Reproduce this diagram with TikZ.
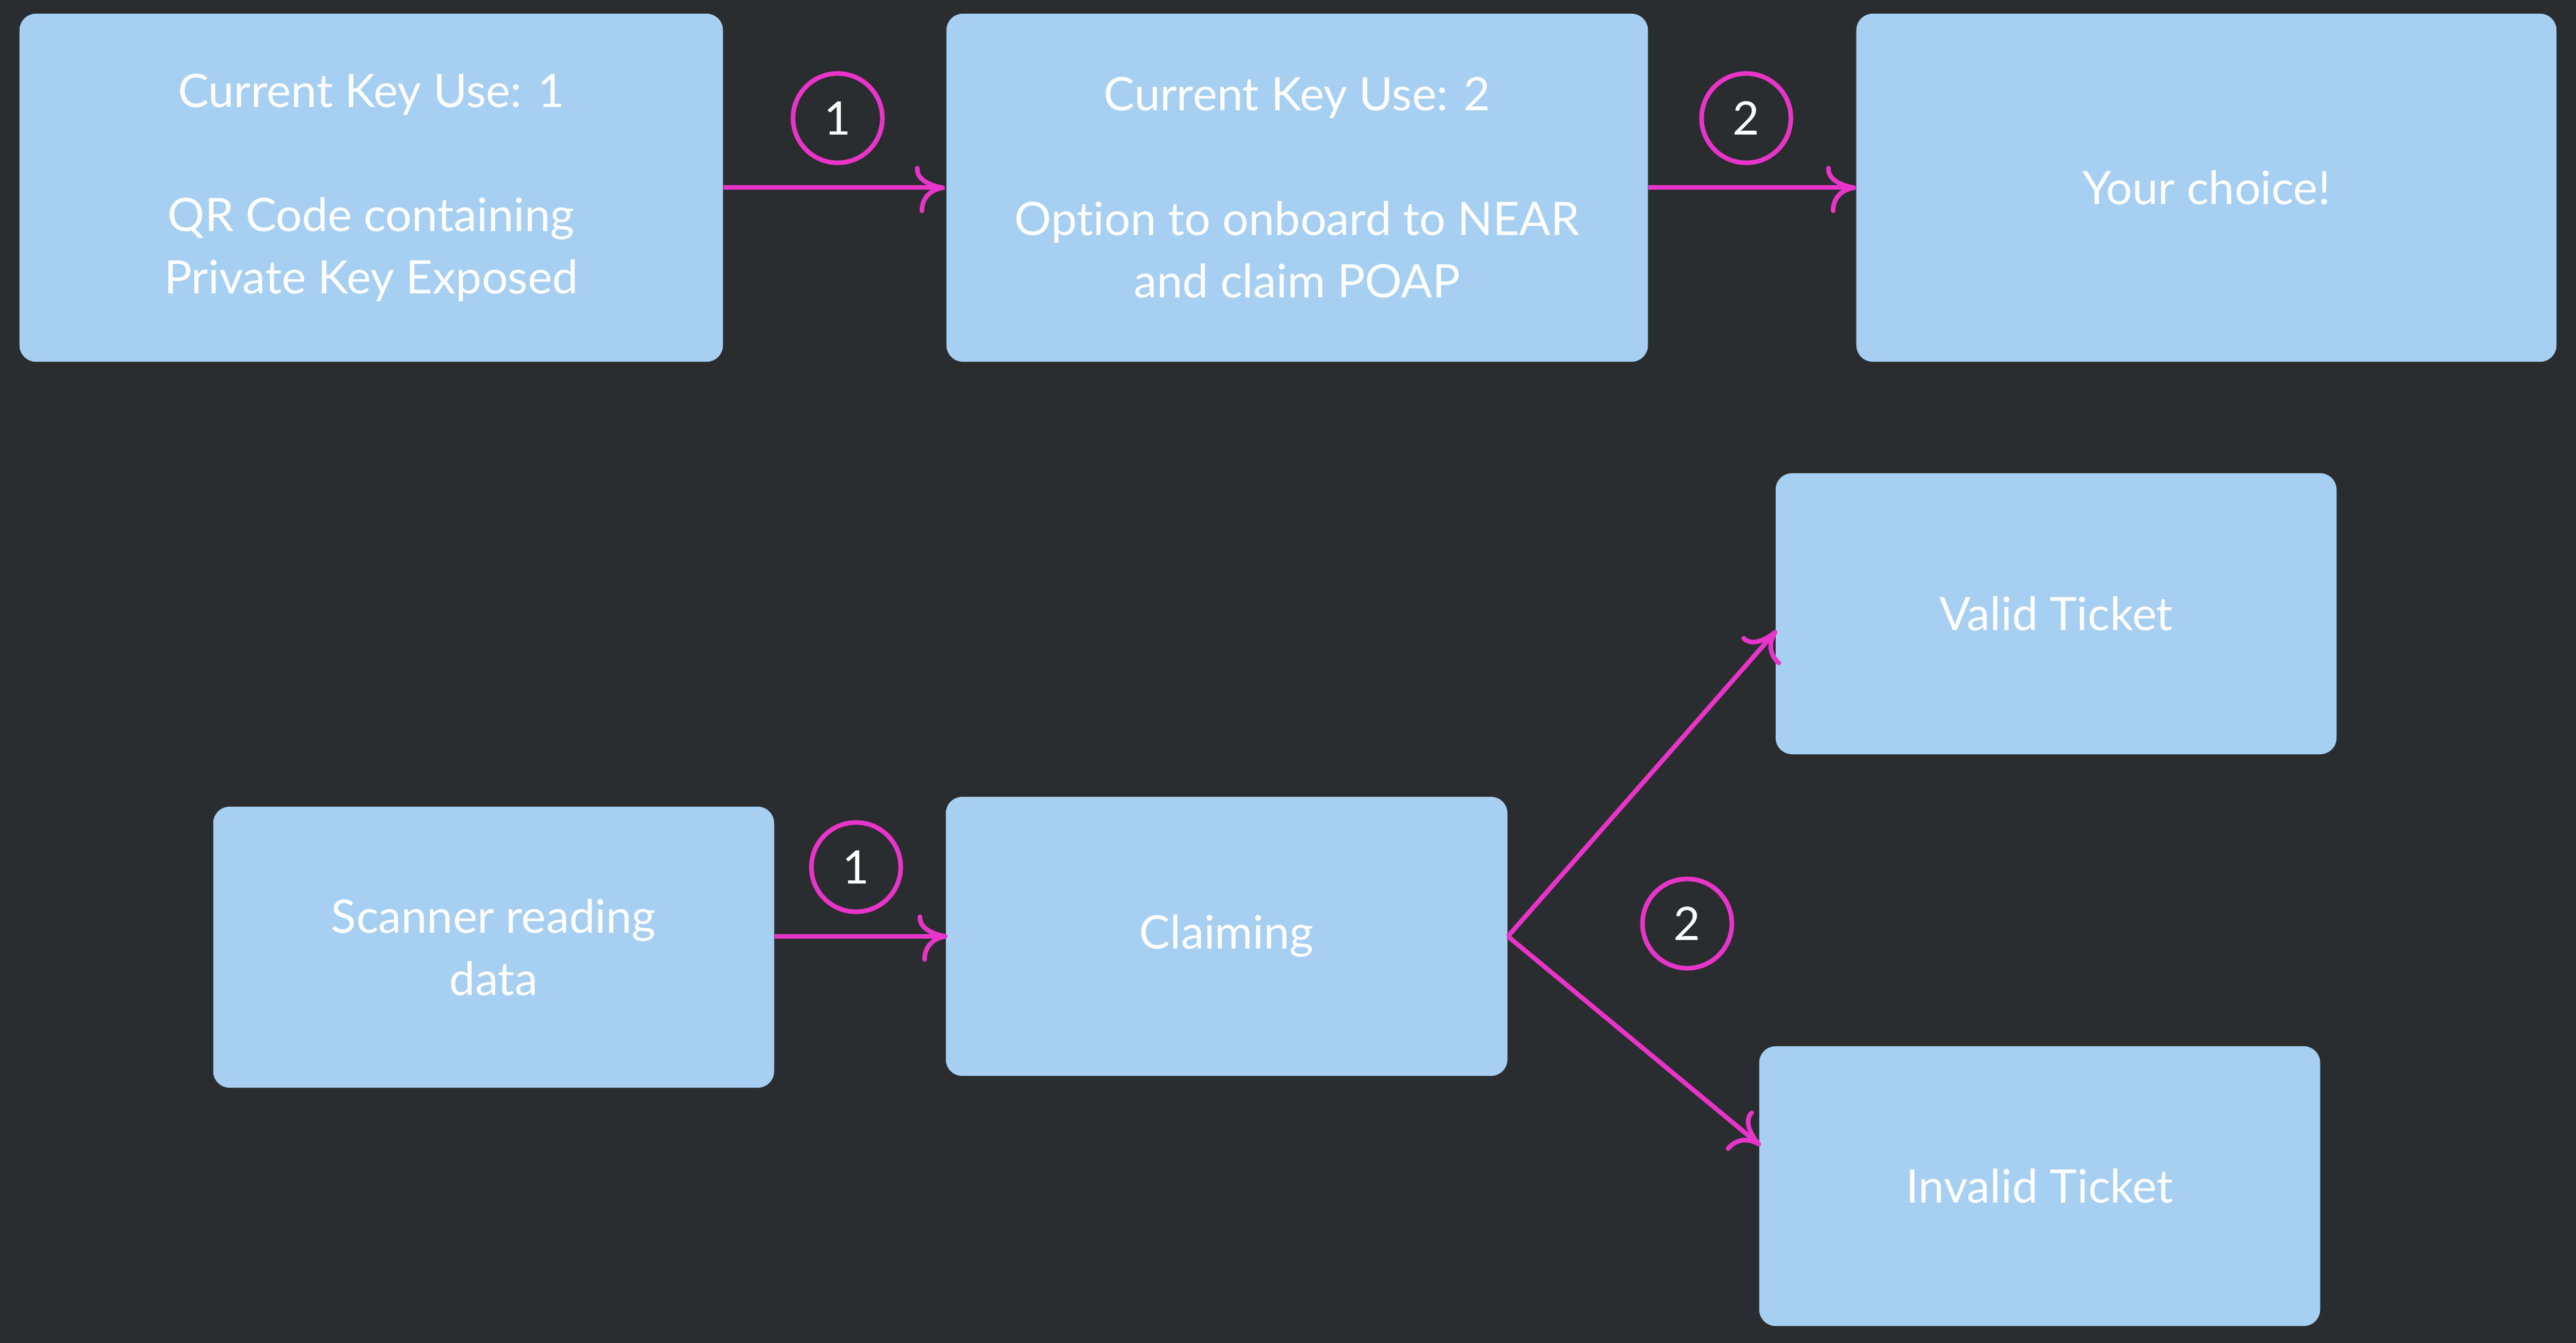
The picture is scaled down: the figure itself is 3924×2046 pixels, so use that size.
\documentclass[tikz,border=0pt]{standalone}
\usepackage{fontspec}
\setmainfont{Lato}[Ligatures=NoCommon]
\usetikzlibrary{calc,arrows.meta}
\definecolor{bgc}{RGB}{42,45,47}
\definecolor{boxc}{RGB}{166,207,241}
\definecolor{magc}{RGB}{232,52,200}
\pgfdeclarearrow{
  name = Curvy,
  setup code = {
    \pgfarrowssettipend{0pt}
    \pgfarrowssetlineend{-1pt}
    \pgfarrowssetbackend{-11pt}
    \pgfarrowsupperhullpoint{-11pt}{10pt}
    \pgfarrowsupperhullpoint{0pt}{0pt}
  },
  drawing code = {
    \pgfsetdash{}{0pt}
    \pgfsetroundcap
    \pgfsetroundjoin
    \pgfpathmoveto{\pgfpoint{-11pt}{8.5pt}}
    \pgfpathcurveto{\pgfpoint{-11.5pt}{4pt}}{\pgfpoint{-6pt}{1pt}}{\pgfpoint{0pt}{0pt}}
    \pgfpathcurveto{\pgfpoint{-6pt}{-1pt}}{\pgfpoint{-9pt}{-5pt}}{\pgfpoint{-9pt}{-10pt}}
    \pgfusepathqstroke
  }
}
\tikzset{
  box/.style={fill=boxc, rounded corners=0.25cm, inner sep=0pt, align=center,
    text=white, font=\fontsize{20pt}{27pt}\selectfont},
  num/.style={circle, draw=magc, line width=0.07cm, minimum size=1.36cm, inner sep=0pt,
    text=white, font=\fontsize{20pt}{24pt}\selectfont},
  conn/.style={draw=magc, line width=0.07cm, -{Curvy}}
}
\begin{document}
\begin{tikzpicture}[x=0.01cm, y=-0.01cm]
\useasboundingbox[fill=bgc] (0,0) rectangle (3924,2046);
% top row
\node[box, minimum width=10.71cm, minimum height=5.30cm] (b1) at (565.5,286)
  {Current Key Use: 1\\[27pt]QR Code containing\\Private Key Exposed};
\node[box, minimum width=10.68cm, minimum height=5.30cm] (b2) at (1976,286)
  {Current Key Use: 2\\[27pt]Option to onboard to NEAR\\and claim POAP};
\node[box, minimum width=10.66cm, minimum height=5.30cm] (b3) at (3361,286)
  {Your choice!};
% bottom part
\node[box, minimum width=8.54cm, minimum height=4.28cm] (b4) at (752,1443)
  {Scanner reading\\data};
\node[box, minimum width=8.55cm, minimum height=4.25cm] (b5) at (1868.5,1426.5)
  {Claiming};
\node[box, minimum width=8.54cm, minimum height=4.28cm] (b6) at (3132,935)
  {Valid Ticket};
\node[box, minimum width=8.54cm, minimum height=4.26cm] (b7) at (3107,1807)
  {Invalid Ticket};
% numbers
\node[num] (c1) at (1276,180) {1};
\node[num] (c2) at (2660,180) {2};
\node[num] (c3) at (1304,1321) {1};
\node[num] (c4) at (2570,1407) {2};
% connectors
\coordinate (e6) at ($(b6.west)+(0,28)$);
\coordinate (e7) at ($(b7.west)+(0,-64)$);
\draw[conn] (b1.east) -- ($(b2.west)+(-5,0)$);
\draw[conn] (b2.east) -- ($(b3.west)+(-3,0)$);
\draw[conn] (b4.east |- b5.west) -- (b5.west);
\draw[conn] (b5.east) -- (e6);
\draw[conn] (b5.east) -- (e7);
\end{tikzpicture}
\end{document}
